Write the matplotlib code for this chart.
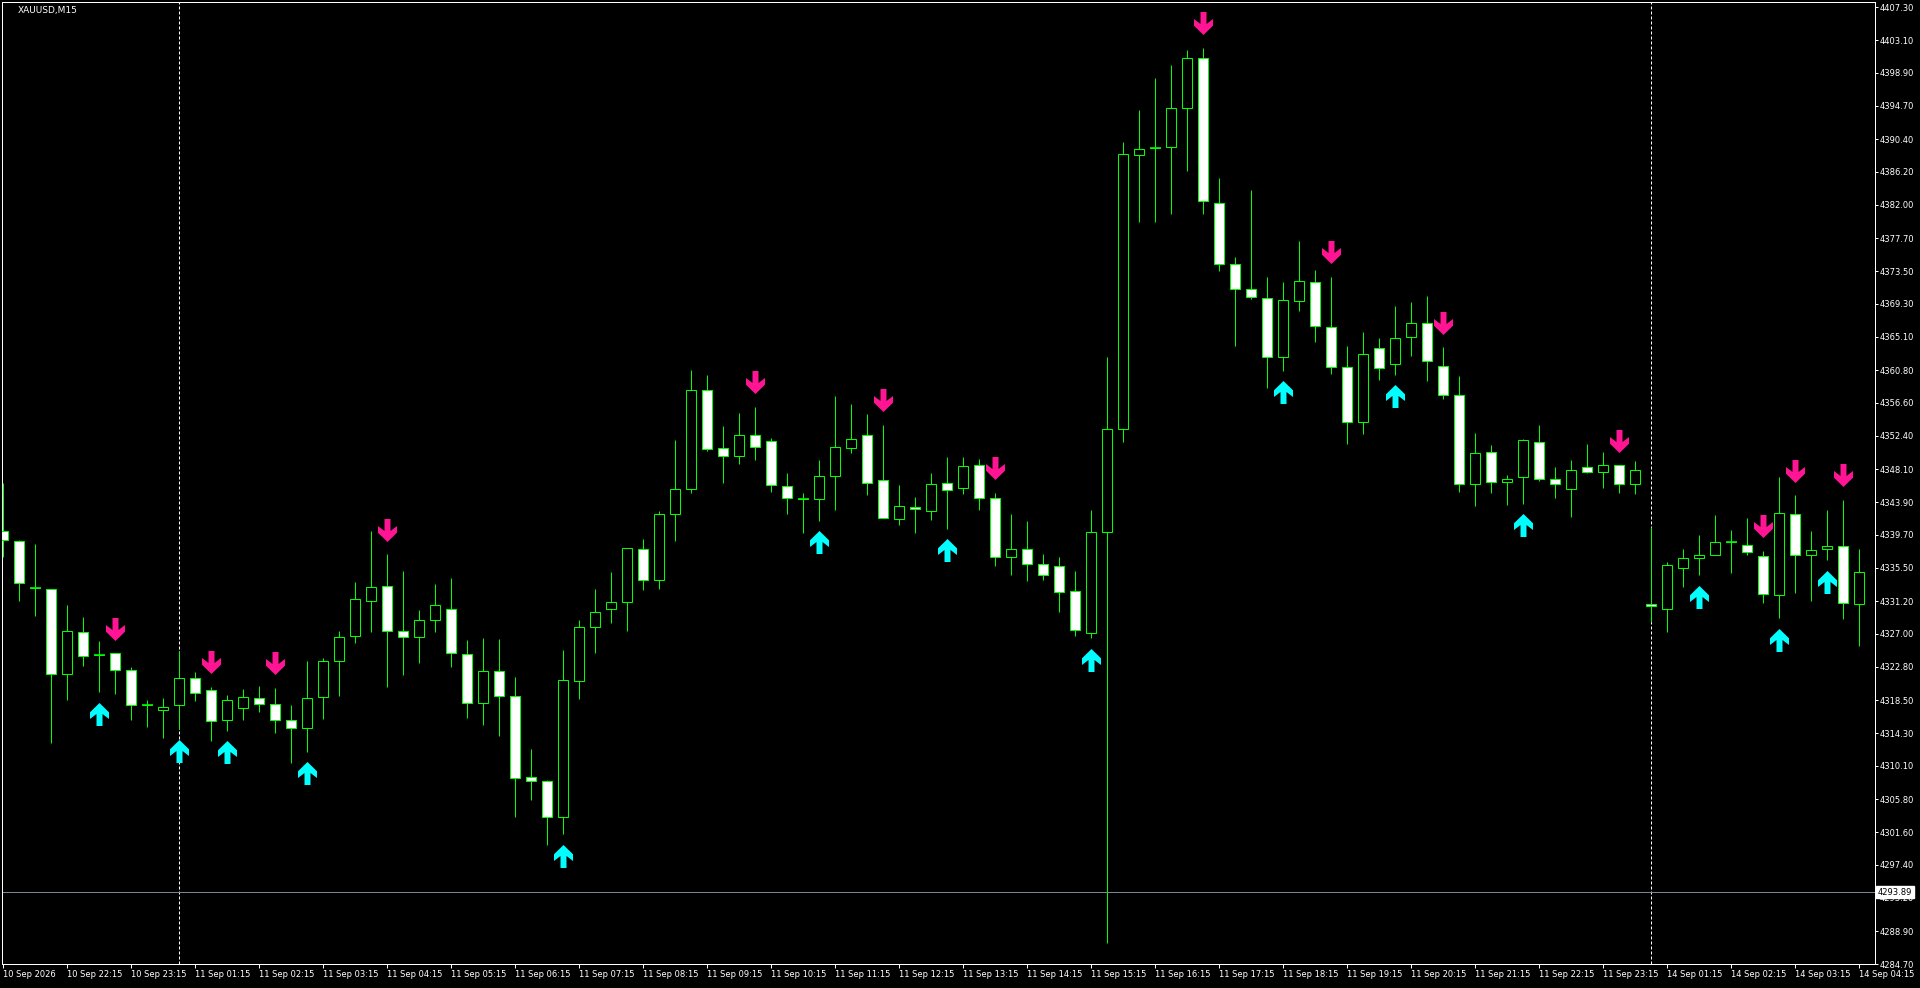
import numpy as np
import matplotlib
matplotlib.use("Agg")
import matplotlib.pyplot as plt
from matplotlib.path import Path
from matplotlib.transforms import offset_copy, blended_transform_factory

symbol_title = "XAUUSD,M15"

opens = [4340.23, 4338.89, 4332.94, 4332.73, 4321.83, 4327.22, 4324.35, 4324.53, 4322.34, 4317.88,
         4317.23, 4317.88, 4321.32, 4319.80, 4315.95, 4317.49, 4318.73, 4318.00, 4315.95, 4314.92,
         4318.90, 4323.50, 4326.71, 4331.19, 4333.12, 4327.31, 4326.59, 4328.77, 4330.16, 4324.40,
         4318.14, 4322.22, 4319.04, 4308.65, 4308.14, 4303.60, 4321.02, 4327.87, 4330.16, 4331.15,
         4337.87, 4333.89, 4342.34, 4345.55, 4358.23, 4350.79, 4349.79, 4352.45, 4351.68, 4345.93,
         4344.35, 4344.26, 4347.22, 4350.79, 4352.45, 4346.70, 4341.69, 4343.32, 4342.81, 4346.40,
         4345.68, 4348.63, 4344.40, 4336.86, 4337.87, 4335.90, 4335.76, 4332.47, 4327.14, 4340.06,
         4353.23, 4388.34, 4389.22, 4389.40, 4394.37, 4400.77, 4382.20, 4374.37, 4371.16, 4370.04,
         4362.48, 4369.60, 4372.06, 4366.31, 4361.17, 4354.21, 4363.61, 4361.55, 4365.02, 4366.82,
         4361.30, 4357.59, 4346.19, 4350.27, 4346.45, 4347.09, 4351.55, 4346.83, 4345.55, 4348.37,
         4347.73, 4348.63, 4346.19, 4330.89, 4330.25, 4335.43, 4336.71, 4337.10, 4338.73, 4338.38,
         4336.97, 4331.96, 4342.33, 4337.10, 4337.87, 4338.25, 4330.81]
highs = [4346.31, 4339.06, 4338.55, 4332.73, 4330.67, 4329.19, 4326.07, 4324.53, 4322.77, 4318.56,
         4318.82, 4324.87, 4322.13, 4320.20, 4319.20, 4319.97, 4320.33, 4320.10, 4317.92, 4323.54,
         4323.93, 4327.40, 4333.67, 4340.20, 4337.23, 4335.09, 4330.10, 4333.42, 4334.19, 4326.24,
         4326.50, 4326.37, 4321.49, 4312.27, 4308.31, 4324.96, 4328.81, 4332.77, 4334.96, 4338.00,
         4339.20, 4342.76, 4351.86, 4360.83, 4360.18, 4353.65, 4355.32, 4356.09, 4352.11, 4347.65,
         4345.03, 4349.32, 4357.51, 4356.48, 4355.19, 4353.78, 4346.10, 4344.56, 4347.65, 4349.70,
         4349.70, 4349.45, 4345.09, 4342.34, 4341.42, 4337.18, 4336.90, 4335.00, 4342.89, 4362.48,
         4390.04, 4394.14, 4398.27, 4399.92, 4401.83, 4402.10, 4385.45, 4375.29, 4383.89, 4372.72,
         4372.08, 4377.30, 4373.60, 4372.74, 4363.87, 4365.66, 4364.89, 4369.00, 4369.52, 4370.26,
         4363.74, 4360.03, 4352.75, 4351.17, 4347.35, 4351.94, 4353.78, 4348.42, 4349.32, 4351.37,
         4350.34, 4348.63, 4349.19, 4340.75, 4336.24, 4337.91, 4339.71, 4342.25, 4340.32, 4341.86,
         4337.66, 4347.09, 4344.77, 4340.19, 4342.89, 4344.18, 4337.91]
lows = [4336.92, 4331.27, 4329.24, 4312.99, 4318.56, 4322.94, 4319.50, 4319.24, 4315.91, 4315.01,
        4313.72, 4314.79, 4318.35, 4313.29, 4314.62, 4315.91, 4316.93, 4314.24, 4310.51, 4311.92,
        4316.08, 4318.99, 4325.90, 4327.19, 4320.25, 4321.79, 4323.21, 4327.19, 4322.82, 4316.17,
        4315.27, 4313.86, 4303.60, 4305.74, 4299.98, 4301.30, 4318.69, 4324.57, 4328.43, 4327.40,
        4332.65, 4332.82, 4338.86, 4345.12, 4350.49, 4346.28, 4348.72, 4349.23, 4345.25, 4342.42,
        4339.88, 4341.52, 4342.94, 4350.23, 4344.86, 4341.82, 4341.01, 4339.88, 4341.65, 4340.50,
        4344.99, 4342.94, 4335.76, 4334.50, 4333.72, 4333.88, 4329.84, 4326.67, 4326.45, 4287.40,
        4351.62, 4379.83, 4379.83, 4380.87, 4386.37, 4380.87, 4373.55, 4363.94, 4369.91, 4358.46,
        4360.73, 4368.32, 4364.47, 4360.36, 4351.38, 4352.67, 4359.60, 4360.23, 4362.67, 4359.35,
        4357.16, 4345.25, 4343.45, 4345.12, 4343.58, 4343.71, 4346.66, 4344.48, 4342.04, 4347.60,
        4345.76, 4345.12, 4344.99, 4328.51, 4327.19, 4332.95, 4334.49, 4337.10, 4334.87, 4337.06,
        4331.02, 4328.98, 4332.30, 4331.28, 4336.41, 4328.85, 4325.39]
closes = [4339.02, 4333.50, 4332.94, 4321.83, 4327.35, 4324.14, 4324.35, 4322.34, 4317.88, 4317.88,
          4317.62, 4321.32, 4319.42, 4315.82, 4318.52, 4318.90, 4318.00, 4315.99, 4314.92, 4318.78,
          4323.50, 4326.59, 4331.45, 4332.99, 4327.31, 4326.59, 4328.77, 4330.68, 4324.53, 4318.14,
          4322.22, 4318.99, 4308.53, 4308.14, 4303.60, 4321.06, 4327.87, 4329.80, 4331.06, 4338.00,
          4333.89, 4342.34, 4345.55, 4358.23, 4350.74, 4349.79, 4352.45, 4350.91, 4346.06, 4344.39,
          4344.35, 4347.22, 4350.91, 4351.94, 4346.32, 4341.82, 4343.36, 4342.98, 4346.19, 4345.42,
          4348.50, 4344.40, 4336.86, 4337.87, 4335.92, 4334.51, 4332.31, 4327.45, 4340.06, 4353.23,
          4388.48, 4389.12, 4389.22, 4394.37, 4400.77, 4382.43, 4374.37, 4371.16, 4370.18, 4362.48,
          4369.77, 4372.18, 4366.44, 4361.17, 4354.12, 4362.84, 4361.04, 4364.89, 4366.82, 4361.94,
          4357.59, 4346.19, 4350.14, 4346.45, 4346.83, 4351.81, 4346.83, 4346.19, 4347.99, 4347.73,
          4348.63, 4346.19, 4347.99, 4330.55, 4335.81, 4336.71, 4337.10, 4338.77, 4338.73, 4337.48,
          4332.09, 4342.46, 4337.10, 4337.74, 4338.25, 4330.93, 4334.91]

sell_signals = [7, 13, 17, 24, 47, 55, 62, 75, 83, 90, 101, 110, 112, 115]
buy_signals = [6, 11, 14, 19, 35, 51, 59, 68, 80, 87, 95, 106, 111, 114]
day_separators = [11, 103]
bid_price = 4293.89

date_tick_pos = [0, 4, 8, 12, 16, 20, 24, 28, 32, 36, 40, 44, 48, 52, 56, 60, 64, 68, 72, 76,
                 80, 84, 88, 92, 96, 100, 104, 108, 112, 116]
date_tick_labels = ["10 Sep 2026", "10 Sep 22:15", "10 Sep 23:15", "11 Sep 01:15", "11 Sep 02:15",
                    "11 Sep 03:15", "11 Sep 04:15", "11 Sep 05:15", "11 Sep 06:15", "11 Sep 07:15",
                    "11 Sep 08:15", "11 Sep 09:15", "11 Sep 10:15", "11 Sep 11:15", "11 Sep 12:15",
                    "11 Sep 13:15", "11 Sep 14:15", "11 Sep 15:15", "11 Sep 16:15", "11 Sep 17:15",
                    "11 Sep 18:15", "11 Sep 19:15", "11 Sep 20:15", "11 Sep 21:15", "11 Sep 22:15",
                    "11 Sep 23:15", "14 Sep 01:15", "14 Sep 02:15", "14 Sep 03:15", "14 Sep 04:15"]
price_ticks = [4407.30, 4403.10, 4398.90, 4394.70, 4390.40, 4386.20, 4382.00, 4377.70, 4373.50,
               4369.30, 4365.10, 4360.80, 4356.60, 4352.40, 4348.10, 4343.90, 4339.70, 4335.50,
               4331.20, 4327.00, 4322.80, 4318.50, 4314.30, 4310.10, 4305.80, 4301.60, 4297.40,
               4293.20, 4288.90, 4284.70]

GREEN = "#00FF00"
RED = "#FF1493"
CYAN = "#00FFFF"
PX = 0.72  # points per pixel at 100 dpi

o = np.array(opens); h = np.array(highs); l = np.array(lows); c = np.array(closes)
idx = np.arange(len(o))

fig = plt.figure(figsize=(19.2, 9.88), dpi=100, facecolor="black")
ax = fig.add_axes([2 / 1920, 24 / 988, 1873 / 1920, 962 / 988])
ax.set_facecolor("black")
for s in ax.spines.values():
    s.set_color("white")
    s.set_linewidth(1 * PX)

ax.set_xlim(-0.08, 116.98)
ax.set_ylim(4284.72, 4407.98)

# day separators
for k in day_separators:
    ax.axvline(k, color="white", lw=1 * PX, dashes=(3, 2), zorder=1)

# bid line
ax.axhline(bid_price, color="#778899", lw=1 * PX, zorder=1.5)

# wicks
ax.vlines(idx, l, h, color=GREEN, lw=1 * PX, zorder=2)

# bodies
bull = c >= o
body_col = np.where(bull, "black", "white")
ax.bar(idx, np.abs(c - o), bottom=np.minimum(o, c), width=0.625,
       color=body_col, edgecolor=GREEN, linewidth=1 * PX, zorder=3)
doji = np.abs(c - o) < 0.05
ax.hlines(c[doji], idx[doji] - 0.33, idx[doji] + 0.33, color=GREEN, lw=1.6 * PX, zorder=3.5)

# arrows
down_verts = [(-3, 11.5), (3, 11.5), (3, -0.5), (9.5, 4.5), (9.5, -2.2), (0, -11.5),
              (-9.5, -2.2), (-9.5, 4.5), (-3, -0.5), (-3, 11.5)]
codes = [Path.MOVETO] + [Path.LINETO] * 8 + [Path.CLOSEPOLY]
down_path = Path(down_verts, codes)
up_path = Path([(x, -y) for x, y in down_verts], codes)

red_tr = offset_copy(ax.transData, fig=fig, x=0, y=24.5, units="dots")
cyan_tr = offset_copy(ax.transData, fig=fig, x=0, y=-21.5, units="dots")
ss = np.array(sell_signals); bs = np.array(buy_signals)
ax.plot(ss, h[ss], transform=red_tr, ls="none", marker=down_path, ms=23 * PX,
        mfc=RED, mec="none", zorder=6, clip_on=False)
ax.plot(bs, l[bs], transform=cyan_tr, ls="none", marker=up_path, ms=23 * PX,
        mfc=CYAN, mec="none", zorder=6, clip_on=False)

# axes ticks
ax.yaxis.tick_right()
ax.set_yticks(price_ticks)
ax.set_yticklabels([f"{v:.2f}" for v in price_ticks])
ax.tick_params(axis="y", direction="out", length=3 * PX, width=1 * PX, color="white",
               labelcolor="white", labelsize=6, pad=2 * PX)
ax.set_xticks(date_tick_pos)
ax.set_xticklabels(date_tick_labels)
for lab in ax.get_xticklabels():
    lab.set_ha("left")
ax.tick_params(axis="x", direction="out", length=4 * PX, width=1 * PX, color="white",
               labelcolor="white", labelsize=6, pad=2 * PX)

# bid label
btr = blended_transform_factory(ax.transAxes, ax.transData)
ax.text(1.0 + 3 / 1873, bid_price, f"{bid_price:.2f}", transform=btr, ha="left", va="center",
        color="black", fontsize=6, zorder=10, clip_on=False,
        bbox=dict(facecolor="white", edgecolor="white", boxstyle="square,pad=0.2"))

fig.text(18 / 1920, 1 - 10.5 / 988, symbol_title, color="white", fontsize=6.5,
         ha="left", va="center")

fig.savefig("out.png", dpi=100, facecolor="black")
